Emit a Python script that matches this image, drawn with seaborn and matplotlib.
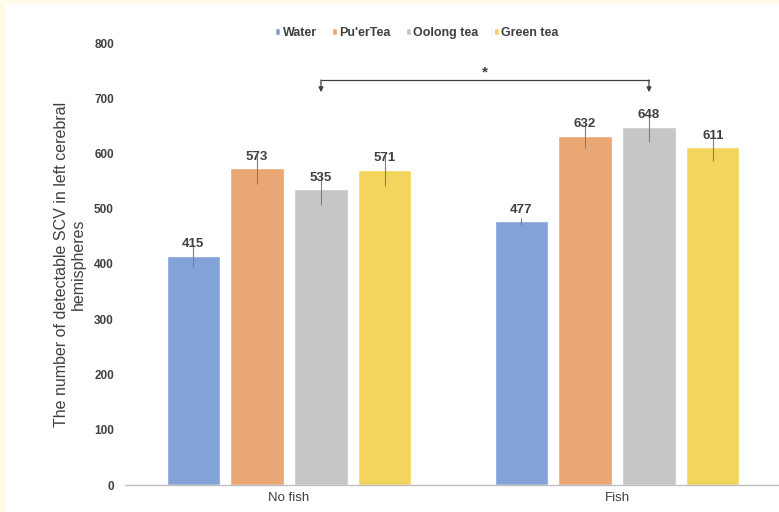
import matplotlib
matplotlib.use("Agg")
import matplotlib.pyplot as plt
from matplotlib.patches import Rectangle
import seaborn as sns
import pandas as pd

groups = ["No fish", "Fish"]
teas = ["Water", "Pu'erTea", "Oolong tea", "Green tea"]
values_nofish = [415, 573, 535, 571]
values_fish = [477, 632, 648, 611]
err_nofish = [20, 28, 28, 30]
err_fish = [6, 22, 28, 25]
colors = ["#82a2d8", "#eba676", "#c6c6c6", "#f3d45c"]

rows = []
for g, vals in zip(groups, [values_nofish, values_fish]):
    for t, v in zip(teas, vals):
        rows.append({"group": g, "tea": t, "value": v})
df = pd.DataFrame(rows)
errs = {g: e for g, e in zip(groups, [err_nofish, err_fish])}

sns.set_style("white")
plt.rcParams["font.family"] = ["Liberation Sans", "DejaVu Sans"]

fig = plt.figure(figsize=(7.79, 5.12), dpi=100, facecolor="#fffbe6")
fig.patches.append(Rectangle((5 / 779, 0), 1, 1 - 4 / 512, transform=fig.transFigure,
                             facecolor="white", edgecolor="none", zorder=-10))
ax = fig.add_axes([125 / 779, 1 - 485 / 512, 656 / 779, 442 / 512])
ax.set_facecolor("none")
ax.set_zorder(5)

sns.barplot(data=df, x="group", y="value", hue="tea", order=groups, hue_order=teas,
            palette=colors, width=0.78, gap=0.17, errorbar=None, ax=ax, saturation=1)

bar_containers = list(ax.containers)
for ci, cont in enumerate(bar_containers):
    for gi, p in enumerate(cont.patches):
        xc = p.get_x() + p.get_width() / 2
        h = p.get_height()
        ax.errorbar(xc, h, yerr=errs[groups[gi]][ci], color="#7f7f7f", lw=0.8,
                    capsize=0, zorder=3)
    ax.bar_label(cont, fmt="%d", padding=4, fontsize=9.5, fontweight="bold",
                 color="#404040")

# significance bracket between Oolong tea bars
oolong = bar_containers[2].patches
x1 = oolong[0].get_x() + oolong[0].get_width() / 2
x2 = oolong[1].get_x() + oolong[1].get_width() / 2
yb = 733
ax.plot([x1, x2], [yb, yb], color="#404040", lw=0.9)
for xx in (x1, x2):
    ax.annotate("", xy=(xx, yb - 22), xytext=(xx, yb),
                arrowprops=dict(arrowstyle="-|>", color="#404040", lw=0.9,
                                mutation_scale=7, shrinkA=0, shrinkB=0))
ax.text((x1 + x2) / 2, yb + 1, "*", ha="center", va="bottom", fontsize=11,
        fontweight="bold", color="#404040")

ax.set_ylim(0, 800)
ax.set_xlim(-0.5, 1.5)
ax.set_yticks(range(0, 801, 100))
ax.tick_params(axis="y", length=0, pad=8, labelsize=8.5, labelcolor="#404040")
ax.tick_params(axis="x", length=0, pad=5, labelsize=9.5, labelcolor="#404040")
for lab in ax.get_yticklabels():
    lab.set_fontweight("bold")
ax.set_xlabel("")
ax.set_ylabel("The number of detectable SCV in left cerebral\nhemispheres",
              fontsize=11.5, color="#404040", labelpad=6, linespacing=1.1)
for s in ["left", "right", "top"]:
    ax.spines[s].set_visible(False)
ax.spines["bottom"].set_color("#bfbfbf")
ax.spines["bottom"].set_linewidth(1)

handles, labels = ax.get_legend_handles_labels()
ax.legend(handles, labels, loc="center", bbox_to_anchor=(417 / 779, 1 - 33 / 512),
          bbox_transform=fig.transFigure, ncol=4, frameon=False,
          handlelength=0.4, handleheight=0.4, handletextpad=0.2, columnspacing=1.2,
          prop={"size": 9, "weight": "bold"}, labelcolor="#404040")

fig.savefig("out.png", dpi=100, facecolor=fig.get_facecolor())
